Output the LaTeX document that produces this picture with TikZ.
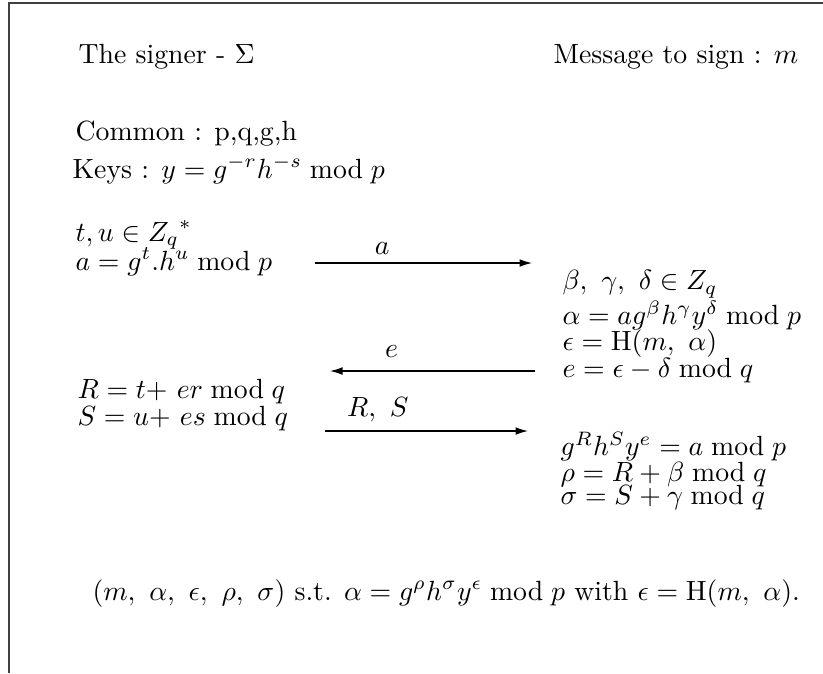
\documentclass[tikz,border=0pt]{standalone}
\usepackage{amsmath}
\usepackage{amssymb}
\usepackage{tikz}
\usetikzlibrary{arrows.meta, positioning}

\begin{document}
\begin{tikzpicture}[
  x=0.36pt, y=-0.36pt,
  txt/.style={anchor=base west, inner sep=0pt, align=left,
              font=\fontsize{10}{9.5}\selectfont},
  msg/.style={-{Latex[length=4.5pt, width=2.8pt]}, line width=0.47pt},
  lbl/.style={font=\fontsize{10}{12}\selectfont, inner sep=3pt}
]
\useasboundingbox (0,0) rectangle (823,673);
% frame
\draw[line width=0.45pt, black!75] (9,673) -- (9,3) -- (823,3);
% headers
\node[txt] (signer) at (78,63) {The signer - $\Sigma$};
\node[txt] (message) at (553,63) {Message to sign : $m$};
\node[txt] (common) at (75,140) {Common : p,q,g,h};
\node[txt] (keys) at (72,178) {Keys : $y = g^{-r}h^{-s} \bmod p$};
% signer side
\node[txt] (commit) at (75,270) {$t, u \in {Z_q}^*$\\[-1.4pt]$a = g^t.h^u \bmod p$};
\node[txt] (answer) at (77,425) {$R = t\mathord{+}\ er \bmod q$\\$S = u\mathord{+}\ es \bmod q$};
% receiver side
\node[txt] (blind) at (562,377) {$\beta,\ \gamma,\ \delta \in Z_q$\\$\alpha = a g^\beta h^\gamma y^\delta \bmod p$\\$\epsilon = \mathrm{H}(m,\ \alpha)$\\$e = \epsilon - \delta \bmod q$};
\node[txt] (check) at (560,504) {$g^R h^S y^e = a \bmod p$\\$\rho = R + \beta \bmod q$\\[-1.4pt]$\sigma = S + \gamma \bmod q$};
% signature
\node[txt] (sig) at (92,600) {$(m,\ \alpha,\ \epsilon,\ \rho,\ \sigma)$ s.t. $\alpha = g^\rho h^\sigma y^\epsilon \bmod p$ with $\epsilon = \mathrm{H}(m,\ \alpha)$.};
% messages
\coordinate (aS) at (315,263);
\coordinate (aE) at (532,263);
\coordinate (eS) at (535,371);
\coordinate (eE) at (330,371);
\coordinate (rsS) at (325,431);
\coordinate (rsE) at (528,431);
\draw[msg] (aS) -- node[lbl, above, pos=0.31] {$a$} (aE);
\draw[msg] (eS) -- node[lbl, above, pos=0.70, yshift=1.7pt] {$e$} (eE);
\draw[msg] (rsS) -- node[lbl, above, pos=0.26] {$R,\ S$} (rsE);
\end{tikzpicture}
\end{document}
